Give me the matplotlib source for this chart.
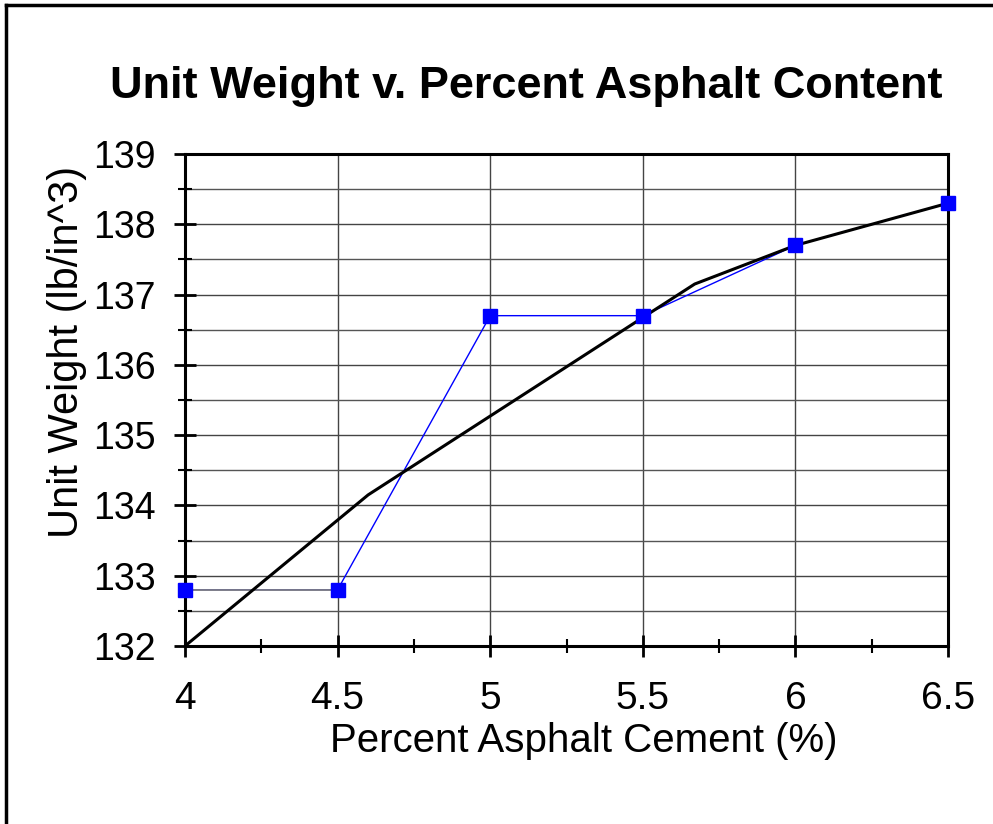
import matplotlib.pyplot as plt
import numpy as np
from matplotlib.lines import Line2D

plt.rcParams['font.family'] = ['Liberation Sans', 'DejaVu Sans']

# measured data
asphalt = [4.0, 4.5, 5.0, 5.5, 6.0, 6.5]
unit_wt = [132.8, 132.8, 136.7, 136.7, 137.7, 138.3]

# hand-drawn best fit line
fit_x = [4.0, 4.6, 5.67, 6.0, 6.5]
fit_y = [132.0, 134.15, 137.15, 137.7, 138.3]

fig = plt.figure(figsize=(9.93, 8.24), dpi=100)
ax = fig.add_axes([0.1863, 0.216, 0.7684, 0.5971])

ax.plot(asphalt, unit_wt, color='#0000ff', lw=1, zorder=3)
ax.plot(asphalt[:2], unit_wt[:2], color='#808080', lw=1.3, zorder=3)
ax.plot(fit_x, fit_y, color='black', lw=2.2, zorder=4)
ax.plot(asphalt, unit_wt, ls='none', marker='s', ms=10,
        color='#0000ff', zorder=5, clip_on=False)

ax.set_xlim(4, 6.5)
ax.set_ylim(132, 139)
ax.set_xticks(np.arange(4, 6.51, 0.5))
ax.set_xticklabels(['4', '4.5', '5', '5.5', '6', '6.5'])
ax.set_xticks(np.arange(4, 6.51, 0.25), minor=True)
ax.set_yticks(np.arange(132, 139.1, 1))
ax.set_yticks(np.arange(132, 139.1, 0.5), minor=True)

ax.grid(True, which='major', color='#444444', lw=1)
ax.grid(True, which='minor', axis='y', color='#555555', lw=1)
ax.set_axisbelow(True)

for s in ax.spines.values():
    s.set_linewidth(2.2)

ax.tick_params(which='major', direction='inout', length=16, width=2,
               labelsize=28)
ax.tick_params(which='minor', direction='inout', length=10, width=1.5)
ax.tick_params(axis='y', which='major', labelsize=27, pad=13)
ax.tick_params(axis='x', which='major', pad=17)

ax.set_title('Unit Weight v. Percent Asphalt Content', fontsize=32.5,
             fontweight='bold', pad=40, x=0.447)
ax.set_xlabel('Percent Asphalt Cement (%)', fontsize=29)
ax.set_ylabel('Unit Weight (lb/in^3)', fontsize=30)
ax.xaxis.set_label_coords(0.522, -0.155)
ax.yaxis.set_label_coords(-0.128, 0.598)

# outer chart border
fig.add_artist(Line2D([0.0065, 0.0065], [0, 0.994], color='black', lw=2.5,
                      transform=fig.transFigure))
fig.add_artist(Line2D([0.0065, 1.0], [0.994, 0.994], color='black', lw=2.5,
                      transform=fig.transFigure))

fig.savefig('out.png', dpi=100)
